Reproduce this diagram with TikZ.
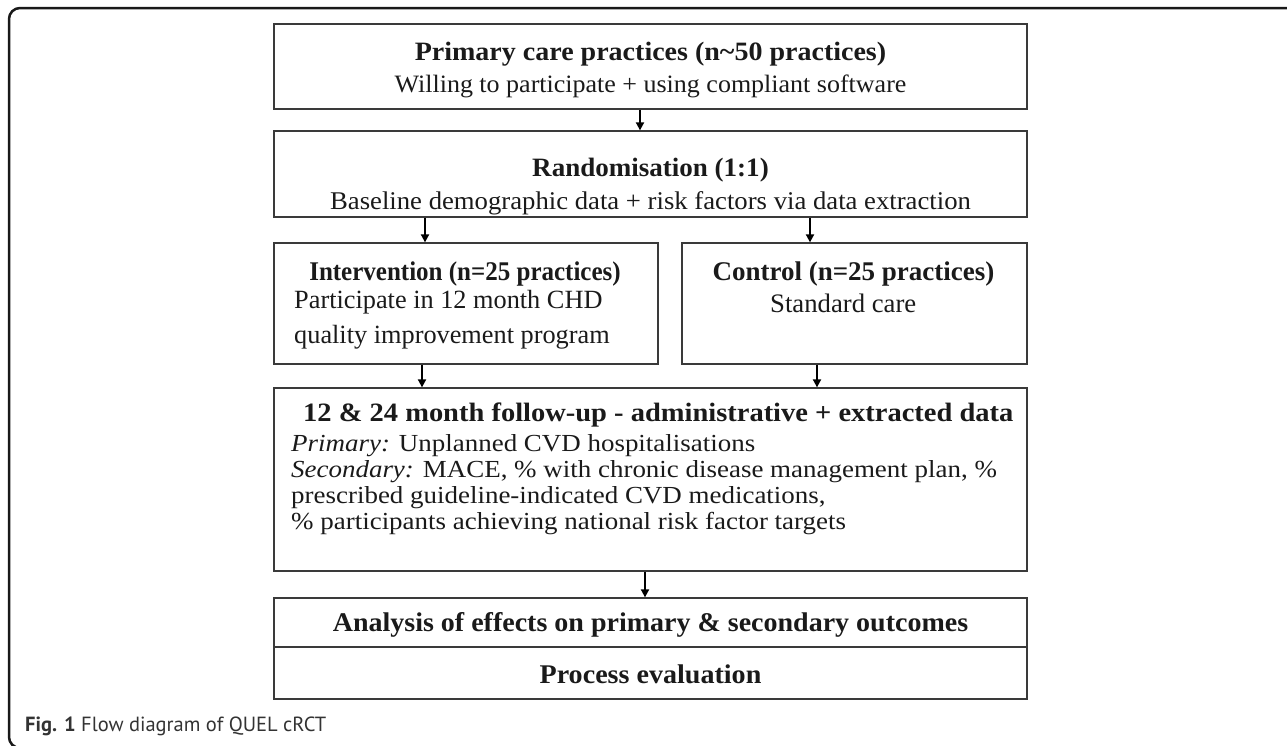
\documentclass[tikz,border=0pt]{standalone}
\usepackage{graphicx}
\usepackage{fontspec}
\setmainfont{Liberation Serif}
\newfontfamily\capfont{PT Sans}
\usetikzlibrary{arrows.meta}
\definecolor{boxc}{HTML}{3A3A3A}
\definecolor{txtc}{HTML}{1A1A1A}
\definecolor{capc}{HTML}{333333}
\newcommand{\hsc}[2]{\scalebox{#1}[1]{#2}}
\begin{document}
\begin{tikzpicture}[x=1pt,y=-1pt,
  boxnode/.style={draw=boxc, line width=1.3pt, inner sep=0pt, rectangle},
  txt/.style={inner sep=0pt, text=txtc},
  fs/.style={font=\fontsize{#1}{#1}\selectfont},
  arr/.style={draw=black, line width=1.8pt, -{Triangle[length=8pt,width=8pt]}}]
\useasboundingbox (0,0) rectangle (1287,745);
% outer frame
\draw[line width=2.5pt, draw=black!90, rounded corners=11pt] (1290,8) -- (9,8) -- (9,748) -- (60,748);
% boxes
\node[boxnode, minimum width=753pt, minimum height=85pt] (b1) at (650.5,66.5) {};
\node[boxnode, minimum width=753pt, minimum height=86pt] (b2) at (650.5,174) {};
\node[boxnode, minimum width=384pt, minimum height=121pt] (b3) at (466,303.5) {};
\node[boxnode, minimum width=345pt, minimum height=121pt] (b4) at (854.5,303.5) {};
\node[boxnode, minimum width=753pt, minimum height=183pt] (b5) at (650.5,479.5) {};
\node[boxnode, minimum width=753pt, minimum height=49pt] (b6) at (650.5,622.5) {};
\node[boxnode, minimum width=753pt, minimum height=52pt] (b7) at (650.5,673) {};
% texts
\node[txt, fs=26.5, anchor=base] (t1a) at (650.5,60.7) {\hsc{1.057}{\bfseries Primary care practices (n\textasciitilde50 practices)}};
\node[txt, fs=25, anchor=base] (t1b) at (650.5,92.7) {\hsc{1.04}{Willing to participate + using compliant software}};
\node[txt, fs=26.5, anchor=base] (t2a) at (650.5,176) {\hsc{1.02}{\bfseries Randomisation (1:1)}};
\node[txt, fs=25.5, anchor=base] (t2b) at (650.5,209) {\hsc{1.047}{Baseline demographic data + risk factors via data extraction}};
\node[txt, fs=27, anchor=base] (t3a) at (465,280) {\hsc{0.926}{\bfseries Intervention (n=25 practices)}};
\node[txt, fs=26.3, anchor=base west] (t3b) at (294,308) {Participate in 12 month CHD};
\node[txt, fs=26.3, anchor=base west] (t3c) at (294,343) {quality improvement program};
\node[txt, fs=27, anchor=base] (t4a) at (853.5,280) {\bfseries Control (n=25 practices)};
\node[txt, fs=26.7, anchor=base west] (t4b) at (770,312) {Standard care};
\node[txt, fs=26.5, anchor=base west] (t5a) at (303,421.7) {\hsc{1.075}{\bfseries 12 \& 24 month follow-up - administrative + extracted data}};
\node[txt, fs=24.5, anchor=base west] (t5b) at (291,451.7) {\hsc{1.1}{\textit{Primary:} Unplanned CVD hospitalisations}};
\node[txt, fs=24.5, anchor=base west] (t5c) at (291,477.7) {\hsc{1.1}{\textit{Secondary:} MACE, \% with chronic disease management plan, \%}};
\node[txt, fs=24.5, anchor=base west] (t5d) at (291,503.3) {\hsc{1.1}{prescribed guideline-indicated CVD medications,}};
\node[txt, fs=24.5, anchor=base west] (t5e) at (291,529) {\hsc{1.1}{\% participants achieving national risk factor targets}};
\node[txt, fs=27, anchor=base] (t6) at (650.5,631.7) {\hsc{1.037}{\bfseries Analysis of effects on primary \& secondary outcomes}};
\node[txt, fs=27, anchor=base] (t7) at (650.5,683.3) {\hsc{1.04}{\bfseries Process evaluation}};
% caption
\node[anchor=base west, inner sep=0pt, text=capc, font=\capfont\fontsize{20.5}{22}\selectfont] (cap) at (25,731) {\textbf{Fig. 1} Flow diagram of QUEL cRCT};
% arrow columns
\coordinate (c1) at (640,0);
\coordinate (c2) at (425,0);
\coordinate (c3) at (810,0);
\coordinate (c4) at (422,0);
\coordinate (c5) at (817,0);
\coordinate (c6) at (645,0);
\draw[arr] (b1.south -| c1) -- (b2.north -| c1);
\draw[arr] (b2.south -| c2) -- (b3.north -| c2);
\draw[arr] (b2.south -| c3) -- (b4.north -| c3);
\draw[arr] (b3.south -| c4) -- (b5.north -| c4);
\draw[arr] (b4.south -| c5) -- (b5.north -| c5);
\draw[arr] (b5.south -| c6) -- (b6.north -| c6);
\end{tikzpicture}
\end{document}
